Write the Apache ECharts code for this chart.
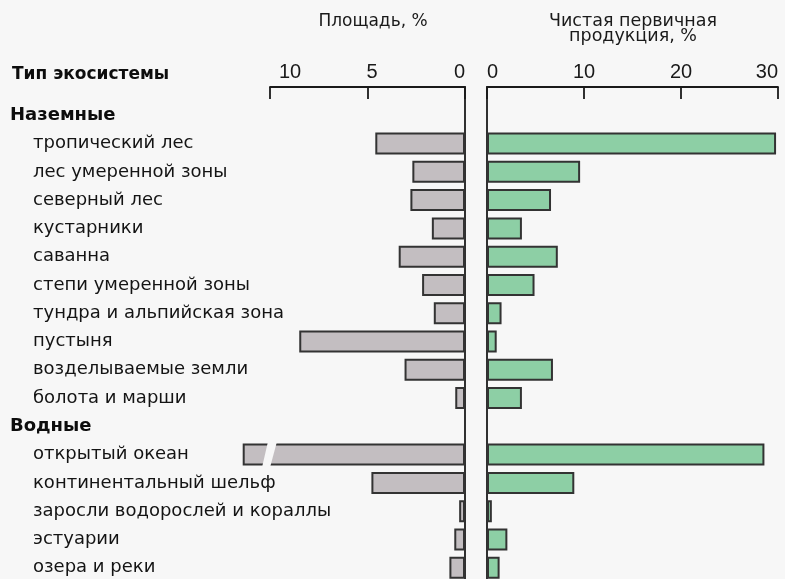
<!DOCTYPE html>
<html>
<head>
<meta charset="utf-8">
<script src="https://cdn.jsdelivr.net/npm/echarts@6/dist/echarts.min.js"></script>
<style>
  html, body { margin: 0; padding: 0; background: #f7f7f7; }
  #main { width: 785px; height: 579px; }
</style>
</head>
<body>
<div id="main"></div>
<script>
// типы экосистем
const landTypes = ['тропический лес', 'лес умеренной зоны', 'северный лес', 'кустарники', 'саванна',
  'степи умеренной зоны', 'тундра и альпийская зона', 'пустыня', 'возделываемые земли', 'болота и марши']
const waterTypes = ['открытый океан', 'континентальный шельф', 'заросли водорослей и кораллы', 'эстуарии', 'озера и реки']
const groupNames = ['Наземные', 'Водные']

// площадь, % (открытый океан нарисован с разрывом)
const areaLand = [4.6, 2.7, 2.8, 1.7, 3.4, 2.2, 1.6, 8.5, 3.1, 0.5]
const areaWater = [11.4, 4.8, 0.3, 0.55, 0.8]
// чистая первичная продукция, %
const nppLand = [29.8, 9.6, 6.6, 3.6, 7.3, 4.9, 1.5, 1.0, 6.8, 3.6]
const nppWater = [28.6, 9.0, 0.5, 2.1, 1.3]

const areaBreak = [[10, 'открытый океан']]

// пустые строки сверху и снизу, чтобы ось доходила до шкалы
const categories = ['', groupNames[0], ...landTypes, groupNames[1], ...waterTypes, '']
const areaData = [null, null, ...areaLand, null, ...areaWater, null]
const nppData = [null, null, ...nppLand, null, ...nppWater, null]

const ink = '#1a1a1a'
const bg = '#f7f7f7'
const textFont = 'DejaVu Sans, sans-serif'
const numFont = 'Liberation Sans, Arial, sans-serif'

const chart = echarts.init(document.getElementById('main'))

const catAxis = {
  type: 'category',
  data: categories,
  inverse: true,
  boundaryGap: false,
  axisTick: { show: false },
  splitLine: { show: false }
}

const topAxis = {
  type: 'value',
  position: 'top',
  min: 0,
  splitLine: { show: false },
  axisLine: { show: true, lineStyle: { color: ink, width: 1.8 } },
  axisTick: { show: true, inside: true, length: 12, lineStyle: { color: ink, width: 1.8 } },
  axisLabel: { fontSize: 20, fontFamily: numFont, color: ink, margin: 5, alignMinLabel: 'left', alignMaxLabel: 'right' }
}

chart.setOption({
  backgroundColor: bg,
  animation: false,
  textStyle: { fontFamily: textFont },
  grid: [
    { left: 270, top: 87, width: 195, height: 509, outerBoundsMode: 'none', containLabel: false },
    { left: 487, top: 87, width: 291, height: 509, outerBoundsMode: 'none', containLabel: false }
  ],
  xAxis: [
    {
      ...topAxis,
      gridIndex: 0,
      inverse: true,
      max: 10,
      interval: 5,
      axisLabel: { ...topAxis.axisLabel, alignMinLabel: 'right', alignMaxLabel: 'left', padding: [0, 0, 0, 9] }
    },
    { ...topAxis, gridIndex: 1, max: 30, interval: 10 }
  ],
  yAxis: [
    {
      ...catAxis,
      gridIndex: 0,
      position: 'right',
      axisLine: { show: true, onZero: false, lineStyle: { color: ink, width: 1.8 } },
      axisLabel: { show: false }
    },
    {
      ...catAxis,
      gridIndex: 1,
      position: 'left',
      axisLine: { show: true, onZero: false, lineStyle: { color: ink, width: 1.8 } },
      axisLabel: { show: false }
    },
    {
      ...catAxis,
      gridIndex: 0,
      position: 'left',
      axisLine: { show: false, onZero: false },
      axisLabel: {
        interval: 0,
        align: 'left',
        margin: 260,
        formatter: (v) => (groupNames.includes(v) ? `{h|${v}}` : `{i|${v}}`),
        rich: {
          h: { fontSize: 18, fontWeight: 'bold', color: '#0d0d0d', fontFamily: textFont },
          i: { fontSize: 18, color: '#141414', fontFamily: textFont, padding: [0, 0, 0, 23] }
        }
      }
    }
  ],
  series: [
    {
      name: 'Площадь',
      type: 'bar',
      xAxisIndex: 0,
      yAxisIndex: 0,
      data: areaData,
      barWidth: 22,
      clip: false,
      itemStyle: { color: '#c3bec1', borderColor: '#333', borderWidth: 2 }
    },
    {
      name: 'Продукция',
      type: 'bar',
      xAxisIndex: 1,
      yAxisIndex: 1,
      data: nppData,
      barWidth: 22,
      itemStyle: { color: '#8dcfa5', borderColor: '#333', borderWidth: 2 }
    },
    {
      // разрыв полосы "открытый океан"
      type: 'custom',
      xAxisIndex: 0,
      yAxisIndex: 0,
      clip: false,
      z: 5,
      data: areaBreak,
      renderItem: (params, api) => {
        const p = api.coord([api.value(0), api.value(1)])
        return {
          type: 'polygon',
          shape: {
            points: [
              [p[0] - 2, p[1] - 13],
              [p[0] + 7, p[1] - 13],
              [p[0] + 0, p[1] + 13],
              [p[0] - 8, p[1] + 13]
            ]
          },
          style: { fill: bg }
        }
      }
    }
  ],
  graphic: [
    {
      type: 'text', x: 12, y: 75,
      style: { text: 'Тип экосистемы', fontSize: 17, fontWeight: 'bold', fill: '#0d0d0d', verticalAlign: 'middle', fontFamily: textFont }
    },
    {
      type: 'text', x: 373, y: 22,
      style: { text: 'Площадь, %', fontSize: 17, fill: ink, align: 'center', verticalAlign: 'middle', fontFamily: textFont }
    },
    {
      type: 'text', x: 633, y: 29,
      style: { text: 'Чистая первичная\nпродукция, %', fontSize: 17.5, lineHeight: 15, fill: ink, align: 'center', verticalAlign: 'middle', fontFamily: textFont }
    }
  ]
})
</script>
</body>
</html>
